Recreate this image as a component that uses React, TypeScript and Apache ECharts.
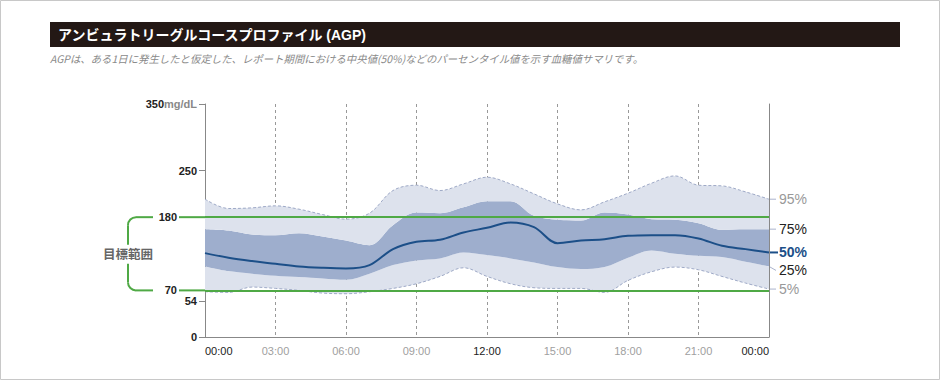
import React, { useEffect, useRef } from 'react';
import * as echarts from 'echarts';

const hours = ['0', '1', '2', '3', '4', '5', '6', '7', '8', '9', '10', '11', '12', '13', '14', '15', '16', '17', '18', '19', '20', '21', '22', '23', '24'];
const p95 = [207, 193, 194, 197, 192, 184, 177, 186, 220, 228, 220, 230, 240, 230, 215, 200, 191, 203, 216, 231, 242, 228, 227, 218, 207];
const p75 = [162, 160, 154, 153, 156, 151, 145, 138, 168, 187, 186, 195, 204, 204, 182, 176, 175, 187, 184, 177, 176, 171, 161, 162, 162];
const p50 = [126, 119, 114, 110, 106, 104, 103, 108, 132, 143, 146, 157, 164, 172, 165, 141, 145, 147, 152, 153, 153, 148, 137, 132, 127];
const p25 = [106, 99, 95, 92, 90, 88, 86, 95, 108, 115, 118, 127, 123, 118, 112, 105, 102, 105, 119, 130, 125, 122, 120, 113, 106];
const p5 = [68, 67, 75, 73, 70, 66, 65, 68, 73, 80, 91, 104, 91, 80, 74, 73, 73, 67, 85, 98, 105, 101, 91, 81, 72];

const xTickLabels = ['00:00', '03:00', '06:00', '09:00', '12:00', '15:00', '18:00', '21:00', '00:00'];
const xDarkLabels = ['00:00', '12:00'];
const yTickValues = [0, 54, 70, 180, 250, 350];
const targetLow = 70;
const targetHigh = 180;
const unitLabel = 'mg/dL';
const titleText = 'アンビュラトリーグルコースプロファイル (AGP)';
const subtitleText = 'AGPは、ある1日に発生したと仮定した、レポート期間における中央値(50%)などのパーセンタイル値を示す血糖値サマリです。';
const rangeLabel = '目標範囲';
const percentileNames = ['95%', '75%', '50%', '25%', '5%'];

const LIGHT = '#dde2ed';
const DARK = '#9eaecd';
const MEDIAN = '#1c4f88';
const OUTLINE = '#9ea9c6';
const GREEN = '#4fa945';
const LATIN = '"Liberation Sans", Arial, sans-serif';
const MIXED = '"Liberation Sans", "Noto Sans CJK JP", sans-serif';
const CJK = '"Noto Sans CJK JP", sans-serif';

export default function App() {
  const ref = useRef<HTMLDivElement>(null);
  useEffect(() => {
    if (!ref.current) return;
    const chart = echarts.init(ref.current, null, { renderer: 'svg' });
    const smooth = 0.35;
    const bandBase = {
      type: 'line',
      stack: 'pct',
      smooth,
      symbol: 'none',
      silent: true,
      lineStyle: { width: 0, opacity: 0 },
      z: 2,
    };
    const option: any = {
      animation: false,
      grid: { left: 205, right: 171, top: 104, bottom: 43 },
      xAxis: {
        type: 'category',
        data: hours,
        boundaryGap: false,
        axisLine: { show: true, lineStyle: { color: '#888', width: 1 } },
        axisTick: { show: false },
        splitLine: { show: true, interval: 2, showMinLine: false, showMaxLine: false, lineStyle: { color: '#999', type: [3, 3], width: 1 } },
        axisLabel: {
          margin: 8,
          interval: 2,
          alignMinLabel: 'left',
          alignMaxLabel: 'right',
          formatter: (v: string) => {
            const lab = xTickLabels[Math.round(Number(v) / 3)];
            return xDarkLabels.includes(lab) ? `{d|${lab}}` : `{g|${lab}}`;
          },
          rich: {
            d: { fontFamily: LATIN, fontSize: 11, color: '#222' },
            g: { fontFamily: LATIN, fontSize: 11, color: '#a0a0a0' },
          },
        },
      },
      yAxis: [
        {
          type: 'value',
          min: 0,
          max: 350,
          position: 'left',
          axisLine: { show: true, lineStyle: { color: '#888', width: 1 } },
          axisTick: { show: true, customValues: yTickValues, length: 6, lineStyle: { color: '#888' } },
          splitLine: { show: false },
          axisLabel: {
            customValues: yTickValues,
            margin: 8,
            formatter: (v: number) => {
              if (v === 350) return `{n|${v}}{u|${unitLabel}}`;
              if (v === targetLow || v === targetHigh) return `{t|${v}}`;
              return `{n|${v}}`;
            },
            rich: {
              n: { fontFamily: LATIN, fontSize: 11, fontWeight: 'bold', color: '#222' },
              u: { fontFamily: LATIN, fontSize: 11, fontWeight: 'bold', color: '#888' },
              t: { fontFamily: LATIN, fontSize: 11, fontWeight: 'bold', color: '#222', padding: [0, 20, 0, 0] },
            },
          },
        },
        {
          type: 'value',
          min: 0,
          max: 350,
          position: 'right',
          axisLine: { show: true, lineStyle: { color: '#888', width: 1 } },
          axisTick: { show: false },
          axisLabel: { show: false },
          splitLine: { show: false },
        },
      ],
      series: [
        { ...bandBase, name: 'base', data: p5 },
        { ...bandBase, name: '5-25', data: p25.map((v, i) => v - p5[i]), areaStyle: { color: LIGHT, opacity: 1 } },
        { ...bandBase, name: '25-75', data: p75.map((v, i) => v - p25[i]), areaStyle: { color: DARK, opacity: 1 } },
        { ...bandBase, name: '75-95', data: p95.map((v, i) => v - p75[i]), areaStyle: { color: LIGHT, opacity: 1 } },
        {
          type: 'line', name: '95%', data: p95, smooth, symbol: 'none', silent: true, z: 3,
          lineStyle: { color: OUTLINE, width: 1, type: [3, 2] },
        },
        {
          type: 'line', name: '5%', data: p5, smooth, symbol: 'none', silent: true, z: 3,
          lineStyle: { color: OUTLINE, width: 1, type: [3, 2] },
        },
        {
          type: 'line', name: '50%', data: p50, smooth, symbol: 'none', silent: true, z: 5,
          lineStyle: { color: MEDIAN, width: 2 },
          markLine: {
            silent: true,
            symbol: 'none',
            label: { show: false },
            lineStyle: { color: GREEN, width: 2, type: 'solid' },
            data: [{ yAxis: targetHigh }, { yAxis: targetLow }],
          },
        },
      ],
    };
    chart.setOption(option);

    const px = (x: number, y: number) => chart.convertToPixel({ gridIndex: 0 }, [x, y]) as number[];
    const last = hours.length - 1;
    const xL = px(0, 0)[0];
    const xR = px(last, 0)[0];
    const yHi = px(0, targetHigh)[1];
    const yLo = px(0, targetLow)[1];
    const yMid = (yHi + yLo) / 2;
    const bx = 128;
    const r = 8;
    const gLine = { stroke: GREEN, lineWidth: 2 };

    const pctValues = [p95[last], p75[last], p50[last], p25[last], p5[last]];
    const pctColors = ['#999', '#222', MEDIAN, '#222', '#999'];
    const pctBold = [false, false, true, false, false];
    const pctDy = [0, 0, 0, 4, 0];

    const graphics: any[] = [
      { type: 'rect', shape: { x: 0.5, y: 0.5, width: 939, height: 379 }, style: { fill: 'none', stroke: '#c8c8c8', lineWidth: 1 } },
      { type: 'rect', shape: { x: 50, y: 22, width: 850, height: 25 }, style: { fill: '#231815' } },
      { type: 'text', x: 58, y: 35, style: { text: titleText, fill: '#fff', font: `bold 14px ${MIXED}`, align: 'left', verticalAlign: 'middle' } },
      { type: 'text', x: 50, y: 58, style: { text: subtitleText, fill: '#8a8a8a', font: `italic 10.4px ${CJK}`, align: 'left', verticalAlign: 'middle' } },
      { type: 'line', shape: { x1: bx + r, y1: yHi, x2: 153, y2: yHi }, style: gLine },
      { type: 'arc', shape: { cx: bx + r, cy: yHi + r, r, startAngle: Math.PI, endAngle: Math.PI * 1.5 }, style: { ...gLine, fill: 'none' } },
      { type: 'line', shape: { x1: bx, y1: yHi + r, x2: bx, y2: yMid - 9 }, style: gLine },
      { type: 'line', shape: { x1: bx, y1: yMid + 10, x2: bx, y2: yLo - r }, style: gLine },
      { type: 'arc', shape: { cx: bx + r, cy: yLo - r, r, startAngle: Math.PI * 0.5, endAngle: Math.PI }, style: { ...gLine, fill: 'none' } },
      { type: 'line', shape: { x1: bx + r, y1: yLo, x2: 153, y2: yLo }, style: gLine },
      { type: 'text', x: bx, y: yMid, style: { text: rangeLabel, fill: '#666', font: `bold 12.5px ${CJK}`, align: 'center', verticalAlign: 'middle' } },
      { type: 'line', z: 10, shape: { x1: 179, y1: yHi, x2: xL, y2: yHi }, style: gLine },
      { type: 'line', z: 10, shape: { x1: 179, y1: yLo, x2: xL, y2: yLo }, style: gLine },
    ];
    percentileNames.forEach((name, i) => {
      const y0 = px(last, pctValues[i])[1];
      const ty = y0 + pctDy[i];
      graphics.push({
        type: 'line',
        shape: { x1: xR, y1: y0, x2: xR + (pctBold[i] ? 9 : 7), y2: ty },
        style: { stroke: pctBold[i] ? MEDIAN : '#aab3cc', lineWidth: pctBold[i] ? 2 : 1 },
      });
      graphics.push({
        type: 'text',
        x: xR + 10,
        y: ty,
        style: {
          text: name,
          fill: pctColors[i],
          font: `${pctBold[i] ? 'bold ' : ''}14px ${LATIN}`,
          align: 'left',
          verticalAlign: 'middle',
        },
      });
    });
    chart.setOption({ graphic: graphics });

    return () => chart.dispose();
  }, []);
  return <div ref={ref} style={{ position: 'absolute', left: 0, top: 0, width: 940, height: 380 }} />;
}
